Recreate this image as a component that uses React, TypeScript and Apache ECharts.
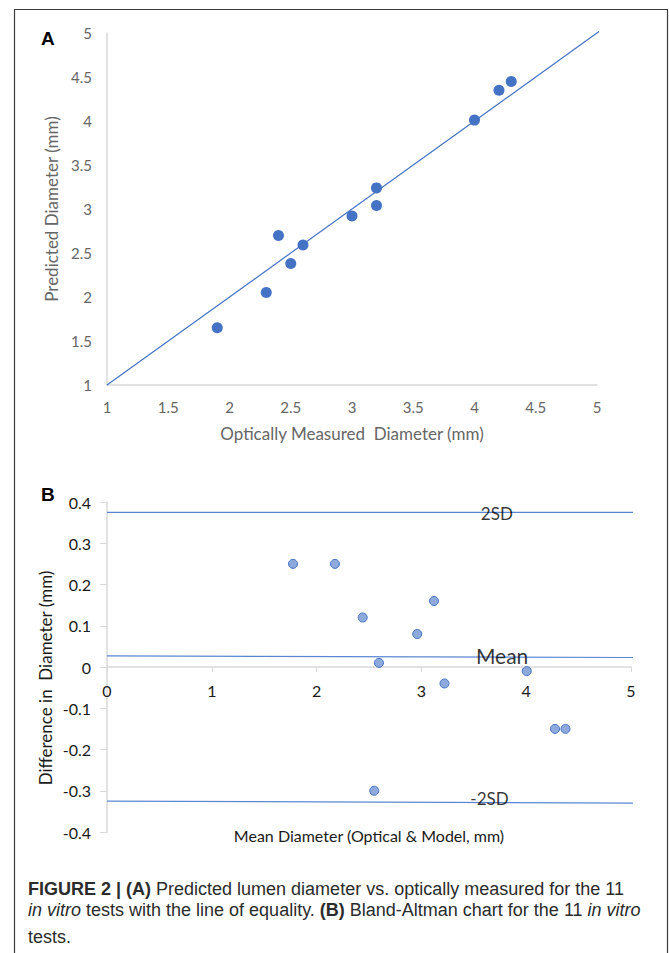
import React, { useEffect, useRef } from "react";
import * as echarts from "echarts";

// Panel A: predicted vs optically measured lumen diameter (mm)
const opticalDiameter = [1.9, 2.3, 2.4, 2.5, 2.6, 3.0, 3.2, 3.2, 4.0, 4.2, 4.3];
const predictedDiameter = [1.65, 2.05, 2.7, 2.38, 2.59, 2.92, 3.24, 3.04, 4.01, 4.35, 4.45];
const equalityLine = [
  [1, 1],
  [5.1, 5.1],
];

// Panel B: Bland-Altman
const meanDiameter = [1.775, 2.175, 2.55, 2.44, 2.595, 2.96, 3.22, 3.12, 4.005, 4.275, 4.375];
const diffDiameter = [0.25, 0.25, -0.3, 0.12, 0.01, 0.08, -0.04, 0.16, -0.01, -0.15, -0.15];
const upperLimit = [
  [0, 0.375],
  [5.11, 0.375],
];
const meanLine = [
  [0, 0.027],
  [5.11, 0.023],
];
const lowerLimit = [
  [0, -0.325],
  [5.11, -0.33],
];
const limitLabels = ["2SD", "Mean", "-2SD"];
const limitLabelPos = [
  [3.72, 0.373],
  [3.77, 0.028],
  [3.65, -0.318],
];

const FONT = "Lato, 'Open Sans', sans-serif";
const CAP_FONT = "'Liberation Sans', Arial, sans-serif";
const CAP_COLOR = "#2b2b2b";

export default function App() {
  const ref = useRef<HTMLDivElement>(null);

  useEffect(() => {
    document.body.style.margin = "0";
    const chart = echarts.init(ref.current!, null, { renderer: "svg" });

    const capText = {
      fontFamily: CAP_FONT,
      fontSize: 18,
      fill: CAP_COLOR,
    };
    const rich = {
      b: { fontFamily: CAP_FONT, fontSize: 18, fontWeight: "bold", color: CAP_COLOR },
      i: { fontFamily: CAP_FONT, fontSize: 18, fontStyle: "italic", color: CAP_COLOR },
    };

    chart.setOption({
      animation: false,
      backgroundColor: "#ffffff",
      grid: [
        { left: 107, top: 33, width: 490, height: 352 },
        { left: 107, top: 502, width: 524, height: 330 },
      ],
      xAxis: [
        {
          gridIndex: 0,
          type: "value",
          min: 1,
          max: 5,
          interval: 0.5,
          name: "Optically Measured  Diameter (mm)",
          nameLocation: "middle",
          nameGap: 40,
          nameTextStyle: { fontFamily: FONT, fontSize: 17, color: "#666666" },
          axisLine: { show: true, lineStyle: { color: "#d9d9d9", width: 1.5 } },
          axisTick: { show: false },
          splitLine: { show: false },
          axisLabel: { fontFamily: FONT, fontSize: 15, color: "#666666", margin: 14 },
        },
        {
          gridIndex: 1,
          type: "value",
          min: 0,
          max: 5,
          interval: 1,
          offset: -165,
          axisLine: { show: true, onZero: false, lineStyle: { color: "#d9d9d9", width: 1.5 } },
          axisTick: { show: true, length: 5, lineStyle: { color: "#d9d9d9" } },
          splitLine: { show: false },
          axisLabel: { fontFamily: FONT, fontSize: 16, color: "#1a1a1a", margin: 15 },
        },
      ],
      yAxis: [
        {
          gridIndex: 0,
          type: "value",
          min: 1,
          max: 5,
          interval: 0.5,
          name: "Predicted Diameter (mm)",
          nameLocation: "middle",
          nameGap: 37,
          nameTextStyle: { fontFamily: FONT, fontSize: 17, color: "#666666" },
          axisLine: { show: true, lineStyle: { color: "#d9d9d9", width: 1.5 } },
          axisTick: { show: false },
          splitLine: { show: false },
          axisLabel: { fontFamily: FONT, fontSize: 15, color: "#666666", margin: 15 },
        },
        {
          gridIndex: 1,
          type: "value",
          min: -0.4,
          max: 0.4,
          interval: 0.1,
          axisLine: { show: true, lineStyle: { color: "#d9d9d9", width: 1.5 } },
          axisTick: { show: true, length: 7, lineStyle: { color: "#d9d9d9" } },
          splitLine: { show: false },
          axisLabel: { fontFamily: FONT, fontSize: 16, color: "#1a1a1a", margin: 16 },
        },
      ],
      series: [
        {
          type: "line",
          xAxisIndex: 0,
          yAxisIndex: 0,
          data: equalityLine,
          showSymbol: false,
          symbol: "none",
          clip: false,
          lineStyle: { color: "#4472c4", width: 1.2 },
          silent: true,
        },
        {
          type: "scatter",
          xAxisIndex: 0,
          yAxisIndex: 0,
          data: opticalDiameter.map((x, i) => [x, predictedDiameter[i]]),
          symbolSize: 11,
          itemStyle: { color: "#4472c4", opacity: 1 },
        },
        ...[upperLimit, meanLine, lowerLimit].map((d) => ({
          type: "line",
          xAxisIndex: 1,
          yAxisIndex: 1,
          data: d,
          showSymbol: false,
          symbol: "none",
          clip: false,
          lineStyle: { color: "#5b87d2", width: 1.2 },
          silent: true,
        })),
        {
          type: "scatter",
          xAxisIndex: 1,
          yAxisIndex: 1,
          data: meanDiameter.map((x, i) => [x, diffDiameter[i]]),
          symbolSize: 9,
          itemStyle: { color: "#8eaadc", borderColor: "#4472c4", borderWidth: 1, opacity: 1 },
        },
        {
          type: "scatter",
          xAxisIndex: 1,
          yAxisIndex: 1,
          symbolSize: 1,
          itemStyle: { color: "rgba(0,0,0,0)" },
          silent: true,
          z: 10,
          data: limitLabels.map((name, i) => ({
            name,
            value: limitLabelPos[i],
            label: {
              show: true,
              position: "inside",
              formatter: name,
              fontFamily: FONT,
              fontSize: name === "Mean" ? 21 : 17,
              color: "#000000",
            },
          })),
        },
      ],
      graphic: [
        {
          type: "rect",
          shape: { x: 14.5, y: 9.5, width: 653, height: 960 },
          style: { fill: "none", stroke: "#3a3a3a", lineWidth: 1.2 },
          silent: true,
        },
        {
          type: "text",
          x: 41,
          y: 38,
          style: {
            text: "A",
            fontFamily: CAP_FONT,
            fontSize: 19,
            fontWeight: "bold",
            fill: "#000000",
            verticalAlign: "middle",
          },
        },
        {
          type: "text",
          x: 41,
          y: 494,
          style: {
            text: "B",
            fontFamily: CAP_FONT,
            fontSize: 19,
            fontWeight: "bold",
            fill: "#000000",
            verticalAlign: "middle",
          },
        },
        {
          type: "text",
          x: 45,
          y: 678,
          rotation: Math.PI / 2,
          style: {
            text: "Difference in  Diameter (mm)",
            fontFamily: FONT,
            fontSize: 17,
            fill: "#1a1a1a",
            align: "center",
            verticalAlign: "middle",
          },
        },
        {
          type: "text",
          x: 369,
          y: 835,
          style: {
            text: "Mean Diameter (Optical & Model, mm)",
            fontFamily: FONT,
            fontSize: 16,
            fill: "#1a1a1a",
            align: "center",
            verticalAlign: "middle",
          },
        },
        {
          type: "text",
          x: 28,
          y: 888.5,
          style: {
            ...capText,
            verticalAlign: "middle",
            text: "{b|FIGURE 2 | (A)} Predicted lumen diameter vs. optically measured for the 11",
            rich,
          },
        },
        {
          type: "text",
          x: 28,
          y: 910,
          style: {
            ...capText,
            verticalAlign: "middle",
            text: "{i|in vitro} tests with the line of equality. {b|(B)} Bland-Altman chart for the 11 {i|in vitro}",
            rich,
          },
        },
        {
          type: "text",
          x: 28,
          y: 936.5,
          style: {
            ...capText,
            verticalAlign: "middle",
            text: "tests.",
          },
        },
      ],
    });

    return () => chart.dispose();
  }, []);

  return (
    <div
      ref={ref}
      style={{ position: "absolute", left: 0, top: 0, width: 669, height: 953 }}
    />
  );
}
